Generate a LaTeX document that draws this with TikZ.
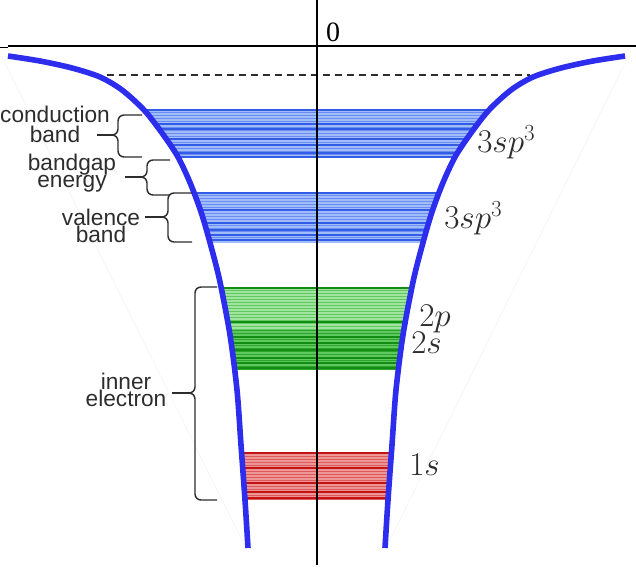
\documentclass[tikz,border=0pt]{standalone}
\usepackage{fontspec}
\newfontfamily\labfont{Liberation Sans}
\newfontfamily\zerofont{Liberation Serif}
\definecolor{wellblue}{RGB}{45,45,238}
\definecolor{txt}{RGB}{45,45,45}
\definecolor{bluebase}{RGB}{105,142,240}
\definecolor{bluepale}{RGB}{160,188,250}
\definecolor{bluedark}{RGB}{50,92,230}
\definecolor{greenbase}{RGB}{95,200,95}
\definecolor{greenpale}{RGB}{160,228,160}
\definecolor{greenmid}{RGB}{45,165,45}
\definecolor{greendark}{RGB}{18,140,18}
\definecolor{redbase}{RGB}{220,90,90}
\definecolor{redpale}{RGB}{238,150,150}
\definecolor{reddark}{RGB}{195,18,18}
\tikzset{
  well/.style={draw=wellblue, line width=4.2pt},
  axisline/.style={draw=black, line width=1.2pt},
  brc/.style={draw=txt, line width=1.1pt},
  lab/.style={font=\labfont\fontsize{17}{13}\selectfont, text=txt, align=center, inner sep=0pt},
  mlab/.style={font=\fontsize{25}{25}\selectfont, text=txt, inner sep=0pt, anchor=west},
  pale/.style={line width=0.8pt},
  dark/.style={line width=1.2pt}
}
\begin{document}
\begin{tikzpicture}[x=0.75pt,y=-0.75pt]
\useasboundingbox (0,0) rectangle (636,578);
% faint guide lines
\draw[gray!10, line width=0.4pt] (2,57) -- (246,548);
\draw[gray!10, line width=0.4pt] (628,57) -- (386,548);
% bands clipped to the well
\begin{scope}
\clip plot[smooth, tension=0.5] coordinates {(8,56) (40,61) (72,68) (100,77) (122,90) (144,110) (162,133) (178,157) (191,185) (202,215) (212,250) (220,282) (230,335) (237,390) (241,445) (245,500) (248,548)}
 -- plot[smooth, tension=0.5] coordinates {(385,548) (388,500) (392,445) (396,390) (403,335) (413,282) (421,250) (431,215) (442,185) (455,157) (471,133) (489,110) (511,90) (533,77) (561,68) (593,61) (625,56)} -- cycle;
% conduction band
\fill[bluebase] (0,109) rectangle (636,158);
\foreach \y in {111,114,...,157} \draw[bluepale,pale] (0,\y) -- (636,\y);
\foreach \y in {110,124,129,139,145,153,157} \draw[bluedark,dark] (0,\y) -- (636,\y);
% valence band
\fill[bluebase] (0,192) rectangle (636,243);
\foreach \y in {194,197,...,242} \draw[bluepale,pale] (0,\y) -- (636,\y);
\foreach \y in {193,210,223,230,235,240} \draw[bluedark,dark] (0,\y) -- (636,\y);
% 2p/2s band
\fill[greenbase] (0,287) rectangle (636,330);
\fill[greenmid] (0,330) rectangle (636,370);
\foreach \y in {289,292,...,329} \draw[greenpale,pale] (0,\y) -- (636,\y);
\foreach \y in {332,335,...,368} \draw[greenbase,pale] (0,\y) -- (636,\y);
\foreach \y in {288,322,337,343,350,358,363,368} \draw[greendark,dark] (0,\y) -- (636,\y);
% 1s band
\fill[redbase] (0,452) rectangle (636,500);
\foreach \y in {455,458,...,499} \draw[redpale,pale] (0,\y) -- (636,\y);
\foreach \y in {453,468,483,492,498} \draw[reddark,dark] (0,\y) -- (636,\y);
\end{scope}
% dashed level
\coordinate (dl) at (107,75);
\coordinate (dr) at (530,75);
\draw[draw=txt, line width=1.3pt, dash pattern=on 5.5pt off 3.5pt] (dl) -- (dr);
% axes
\coordinate (ytop) at (317,0);
\coordinate (ybot) at (317,565);
\coordinate (xl) at (8,46);
\coordinate (xr) at (636,46);
\coordinate (tl) at (0,47.5);
\coordinate (tr) at (8,47.5);
\draw[axisline] (ytop) -- (ybot);
\draw[axisline] (xl) -- (xr);
\draw[axisline] (tl) -- (tr);
\node[font=\zerofont\fontsize{21}{21}\selectfont, inner sep=0pt] (zero) at (333,32) {0};
% potential well
\draw[well] plot[smooth, tension=0.5] coordinates {(8,56) (40,61) (72,68) (100,77) (122,90) (144,110) (162,133) (178,157) (191,185) (202,215) (212,250) (220,282) (230,335) (237,390) (241,445) (245,500) (248,548)};
\draw[well] plot[smooth, tension=0.5] coordinates {(625,56) (593,61) (561,68) (533,77) (511,90) (489,110) (471,133) (455,157) (442,185) (431,215) (421,250) (413,282) (403,335) (396,390) (392,445) (388,500) (385,548)};
% orbital labels
\node[mlab] (sp3a) at (477,142) {$3sp^3$};
\node[mlab] (sp3b) at (444,218) {$3sp^3$};
\node[mlab] (p2) at (419,319) {$2p$};
\node[mlab] (s2) at (411,343) {$2s$};
\node[mlab] (s1) at (409,465) {$1s$};
% left labels
\node[lab, font=\labfont\fontsize{17}{15}\selectfont] (cond) at (55,124) {conduction\\band};
\node[lab] (gap) at (72,173) {bandgap\\energy};
\node[lab] (val) at (101,226) {valence\\band};
\node[lab] (inner) at (126,390) {inner\\electron};
% braces
\coordinate (ctip) at (112,135);
\coordinate (cst) at (97,135);
\draw[brc] (142,115) -- (124,115) to[out=180,in=90] (118,121) -- (118,129) to[out=-90,in=0] (ctip) to[out=0,in=90] (118,141) -- (118,151) to[out=-90,in=180] (124,157) -- (142,157);
\draw[brc] (cst) -- (ctip);
\coordinate (gtip) at (141,177);
\coordinate (gst) at (125,177);
\draw[brc] (170,160) -- (153,160) to[out=180,in=90] (147,166) -- (147,171) to[out=-90,in=0] (gtip) to[out=0,in=90] (147,183) -- (147,189) to[out=-90,in=180] (153,195) -- (170,195);
\draw[brc] (gst) -- (gtip);
\coordinate (vtip) at (162,217);
\coordinate (vst) at (145,217);
\draw[brc] (192,193) -- (174,193) to[out=180,in=90] (168,199) -- (168,211) to[out=-90,in=0] (vtip) to[out=0,in=90] (168,223) -- (168,236) to[out=-90,in=180] (174,242) -- (192,242);
\draw[brc] (vst) -- (vtip);
\coordinate (itip) at (189,393);
\coordinate (ist) at (172,393);
\draw[brc] (217,287) -- (201,287) to[out=180,in=90] (195,293) -- (195,387) to[out=-90,in=0] (itip) to[out=0,in=90] (195,399) -- (195,494) to[out=-90,in=180] (201,500) -- (217,500);
\draw[brc] (ist) -- (itip);
\end{tikzpicture}
\end{document}
